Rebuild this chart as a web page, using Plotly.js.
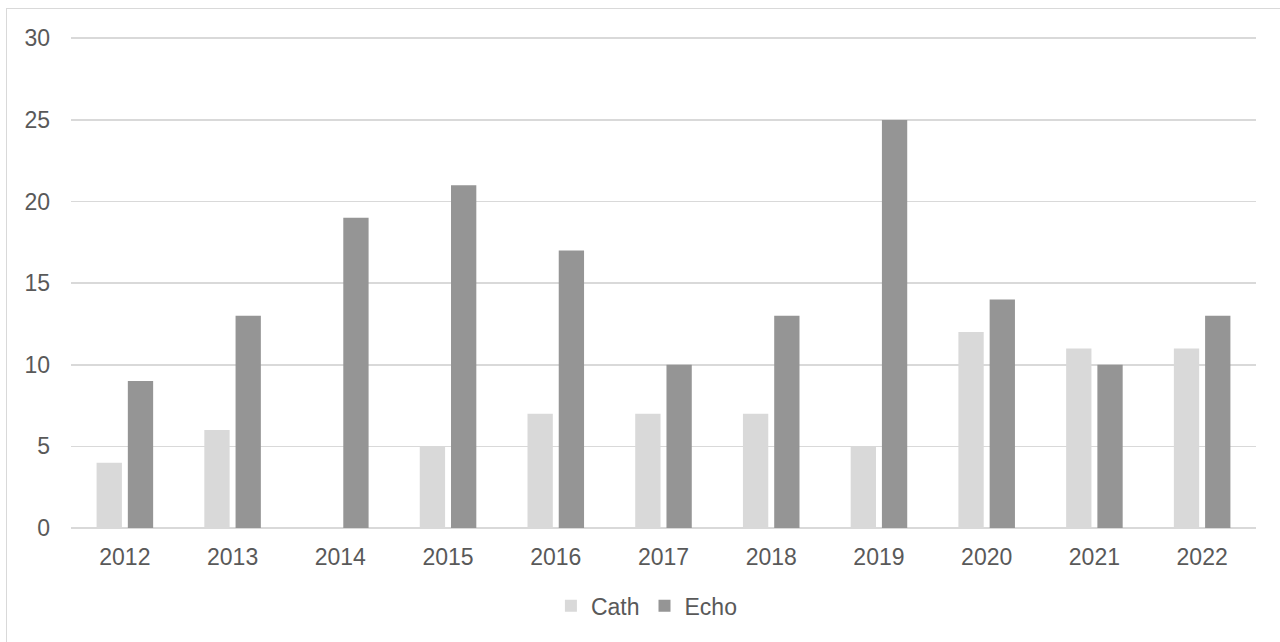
<!DOCTYPE html>
<html>
<head>
<meta charset="utf-8">
<script src="https://cdn.plot.ly/plotly-3.0.1.min.js"></script>
<style>
html, body { margin: 0; padding: 0; background: #ffffff; overflow: hidden; }
#chart { width: 1280px; height: 642px; position: absolute; left: 0; top: 0; }
#frame { position: absolute; left: 6px; top: 8px; width: 1300px; height: 700px;
  border-left: 1.5px solid #d9d9d9; border-top: 1.5px solid #d9d9d9; pointer-events: none; }
</style>
</head>
<body>
<div id="chart"></div>
<div id="frame"></div>
<script>
const years = ['2012','2013','2014','2015','2016','2017','2018','2019','2020','2021','2022'];
const cathValues = [4, 6, null, 5, 7, 7, 7, 5, 12, 11, 11];
const echoValues = [9, 13, 19, 21, 17, 10, 13, 25, 14, 10, 13];
const yTicks = [0, 5, 10, 15, 20, 25, 30];

const textColor = '#595959';
const font = { family: 'Liberation Sans, Arial, sans-serif', size: 23, color: textColor };

const traces = [
  { type: 'bar', name: 'Cath', x: years, y: cathValues, marker: { color: '#d9d9d9' }, hoverinfo: 'x+y+name' },
  { type: 'bar', name: 'Echo', x: years, y: echoValues, marker: { color: '#959595' }, hoverinfo: 'x+y+name' }
];

const layout = {
  width: 1280, height: 642,
  margin: { l: 71, r: 24, t: 35, b: 114 },
  paper_bgcolor: '#ffffff', plot_bgcolor: '#ffffff',
  font: font,
  barmode: 'group', bargap: 0.42, bargroupgap: 0.19,
  showlegend: true,
  legend: { orientation: 'h', x: 0.486, xanchor: 'center', y: -0.158, yanchor: 'middle',
    font: font, itemwidth: 30, tracegroupgap: 0 },
  xaxis: { type: 'category', showgrid: false, zeroline: false, showline: false,
    ticks: '', tickfont: font, ticklabelstandoff: 13 },
  yaxis: { range: [0, 30.2], tickvals: yTicks, showgrid: true, gridcolor: '#d9d9d9', gridwidth: 1.6,
    zeroline: true, zerolinecolor: '#d9d9d9', zerolinewidth: 1.6, showline: false, ticks: '',
    tickfont: font, ticklabelstandoff: 20 }
};

Plotly.newPlot('chart', traces, layout, { displayModeBar: false, staticPlot: true });
</script>
</body>
</html>
